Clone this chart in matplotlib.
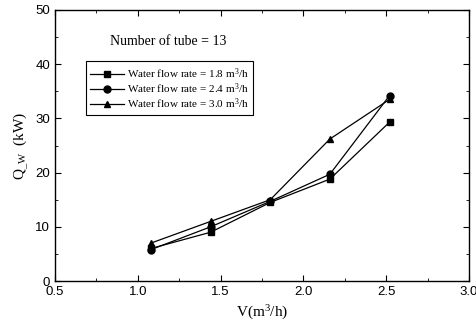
import numpy as np
import matplotlib.pyplot as plt
from matplotlib.ticker import MultipleLocator

# data
v = [1.08, 1.44, 1.80, 2.16, 2.52]
q_18 = [6.0, 9.0, 14.5, 18.8, 29.3]
q_24 = [5.8, 10.0, 14.7, 19.7, 34.2]
q_30 = [7.0, 11.0, 15.0, 26.2, 33.5]
labels = ["Water flow rate = 1.8 m$^3$/h",
          "Water flow rate = 2.4 m$^3$/h",
          "Water flow rate = 3.0 m$^3$/h"]

serif = "Liberation Serif"
plt.rcParams["font.family"] = "Liberation Sans"
plt.rcParams["mathtext.fontset"] = "custom"
plt.rcParams["mathtext.rm"] = serif
plt.rcParams["mathtext.it"] = serif + ":italic"

fig = plt.figure(figsize=(4.77, 3.31), dpi=100)
ax = fig.add_axes([55 / 477, 50 / 331, 414 / 477, 271 / 331])

ax.plot(v, q_18, "k-s", lw=0.9, ms=5, label=labels[0])
ax.plot(v, q_24, "k-o", lw=0.9, ms=5, label=labels[1])
ax.plot(v, q_30, "k-^", lw=0.9, ms=5, label=labels[2])

ax.set_xlim(0.5, 3.0)
ax.set_ylim(0, 50)
ax.xaxis.set_major_locator(MultipleLocator(0.5))
ax.xaxis.set_minor_locator(MultipleLocator(0.25))
ax.yaxis.set_major_locator(MultipleLocator(10))
ax.yaxis.set_minor_locator(MultipleLocator(5))
ax.tick_params(which="both", direction="in", top=True, right=True, labelsize=9.5)
ax.tick_params(which="major", length=4)
ax.tick_params(which="minor", length=2.5)
for s in ax.spines.values():
    s.set_linewidth(1.0)

ax.set_xlabel("V(m$^3$/h)", fontsize=11, family=serif)
ax.set_ylabel("Q$_{\\mathrm{\\_W}}$  (kW)", fontsize=11, family=serif)

ax.text(0.832, 44.1, "Number of tube = 13", fontsize=10, family=serif, va="center")

leg = ax.legend(loc="upper left", bbox_to_anchor=(0.075, 0.81), prop={"family": serif, "size": 8},
                fancybox=False, edgecolor="black", framealpha=1, handlelength=3.0,
                handletextpad=0.3, borderpad=0.4, labelspacing=0.05, borderaxespad=0)
leg.get_frame().set_linewidth(0.8)

fig.savefig("out.png", dpi=100)
